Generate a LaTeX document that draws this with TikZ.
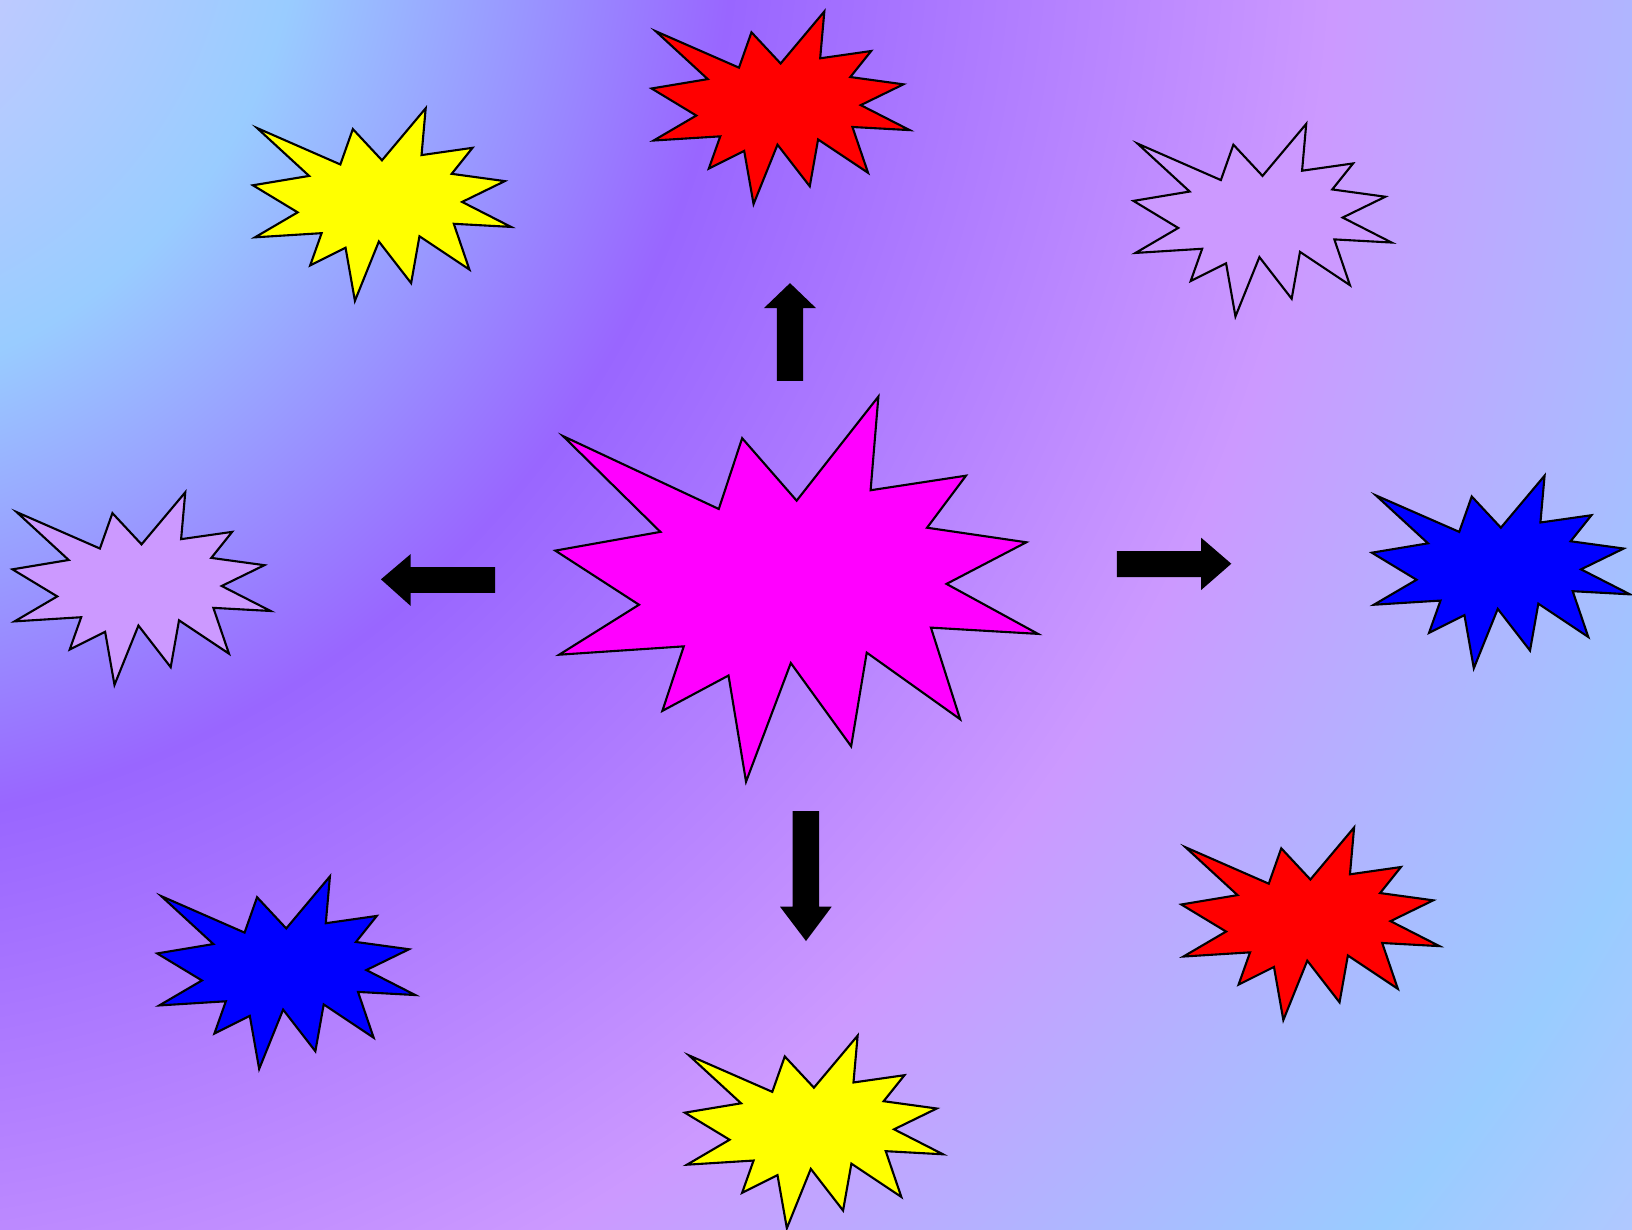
\documentclass[tikz,border=0pt]{standalone}
\usepackage{tikz}

\definecolor{bgcorner}{HTML}{BDCAFF}
\definecolor{bgblue}{HTML}{99CCFF}
\definecolor{bgpurple}{HTML}{9966FF}
\definecolor{bglilac}{HTML}{CC99FF}
\definecolor{bgfar}{HTML}{B0C8FF}
\definecolor{lilac}{HTML}{CC99FF}
\definecolor{burstpink}{HTML}{FF00FF}
\definecolor{burstyellow}{HTML}{FFFF00}
\definecolor{burstred}{HTML}{FF0000}
\definecolor{burstblue}{HTML}{0000FF}

% radial glow, centre just off the top left corner
\pgfdeclareradialshading{bgglow}{\pgfpointorigin}{%
  color(0bp)=(bgcorner); color(2.55bp)=(bgcorner); color(5.38bp)=(bgblue);
  color(9.92bp)=(bgpurple); color(16.2bp)=(bglilac); color(21.8bp)=(bgblue);
  color(23.87bp)=(bgfar); color(25bp)=(bgfar); color(50bp)=(bgfar)}

\begin{document}
\begin{tikzpicture}[
  x=0.0104082cm, y=-0.0104082cm,
  burst/.pic={
    \draw[line width=0.6pt, pic actions]
      (0,0) -- (80,35) -- (92,1) -- (120,31) -- (162,-19) -- (158,26)
      -- (207,19) -- (187,44) -- (238,51) -- (197,71) -- (244,95)
      -- (189,92) -- (204,136) -- (156,104) -- (148,149) -- (117,109)
      -- (94,166) -- (85,115) -- (51,132) -- (62,101) -- (-2,105)
      -- (39,81) -- (-4,55) -- (50,46) -- cycle;
  },
  blockarrow/.style={fill=black}
]

\useasboundingbox (0,0) rectangle (1568,1181);

% Background
\begin{scope}
  \clip (0,0) rectangle (1568,1181);
  \shade[shading=bgglow] (-205,-115) circle (2300);
\end{scope}

% Centre burst
\begin{scope}[shift={(541,419)}, xscale=1.87, yscale=2, transform shape]
  \pic[fill=burstpink] (centre) {burst};
\end{scope}

% Small bursts
\pic[fill=burstred]    (redtop)     at (630,30)   {burst};
\pic[fill=burstyellow] (yellowtl)   at (247,123)  {burst};
\pic[fill=lilac]       (lilactr)    at (1093,138) {burst};
\pic[fill=lilac]       (lilacleft)  at (16,492)   {burst};
\pic[fill=burstblue]   (blueright)  at (1322,476) {burst};
\pic[fill=burstblue]   (bluebl)     at (155,861)  {burst};
\pic[fill=burstred]    (redbr)      at (1139,814) {burst};
\pic[fill=burstyellow] (yellowbot)  at (662,1014) {burst};

% Arrows
\fill[blockarrow] (759,272) -- (784,296) -- (771.5,296) -- (771.5,366)
  -- (746.5,366) -- (746.5,296) -- (734,296) -- cycle;
\fill[blockarrow] (1183,541.6) -- (1154,566.9) -- (1154,554.4) -- (1073,554.4)
  -- (1073,529.4) -- (1154,529.4) -- (1154,516.6) -- cycle;
\fill[blockarrow] (366,556.6) -- (394.6,532.3) -- (394.6,544.8) -- (475.6,544.8)
  -- (475.6,569.5) -- (394.6,569.5) -- (394.6,582.2) -- cycle;
\fill[blockarrow] (774.4,904.1) -- (749.4,871.1) -- (761.6,871.1) -- (761.6,779.2)
  -- (786.9,779.2) -- (786.9,871.1) -- (799.1,871.1) -- cycle;

\end{tikzpicture}
\end{document}
